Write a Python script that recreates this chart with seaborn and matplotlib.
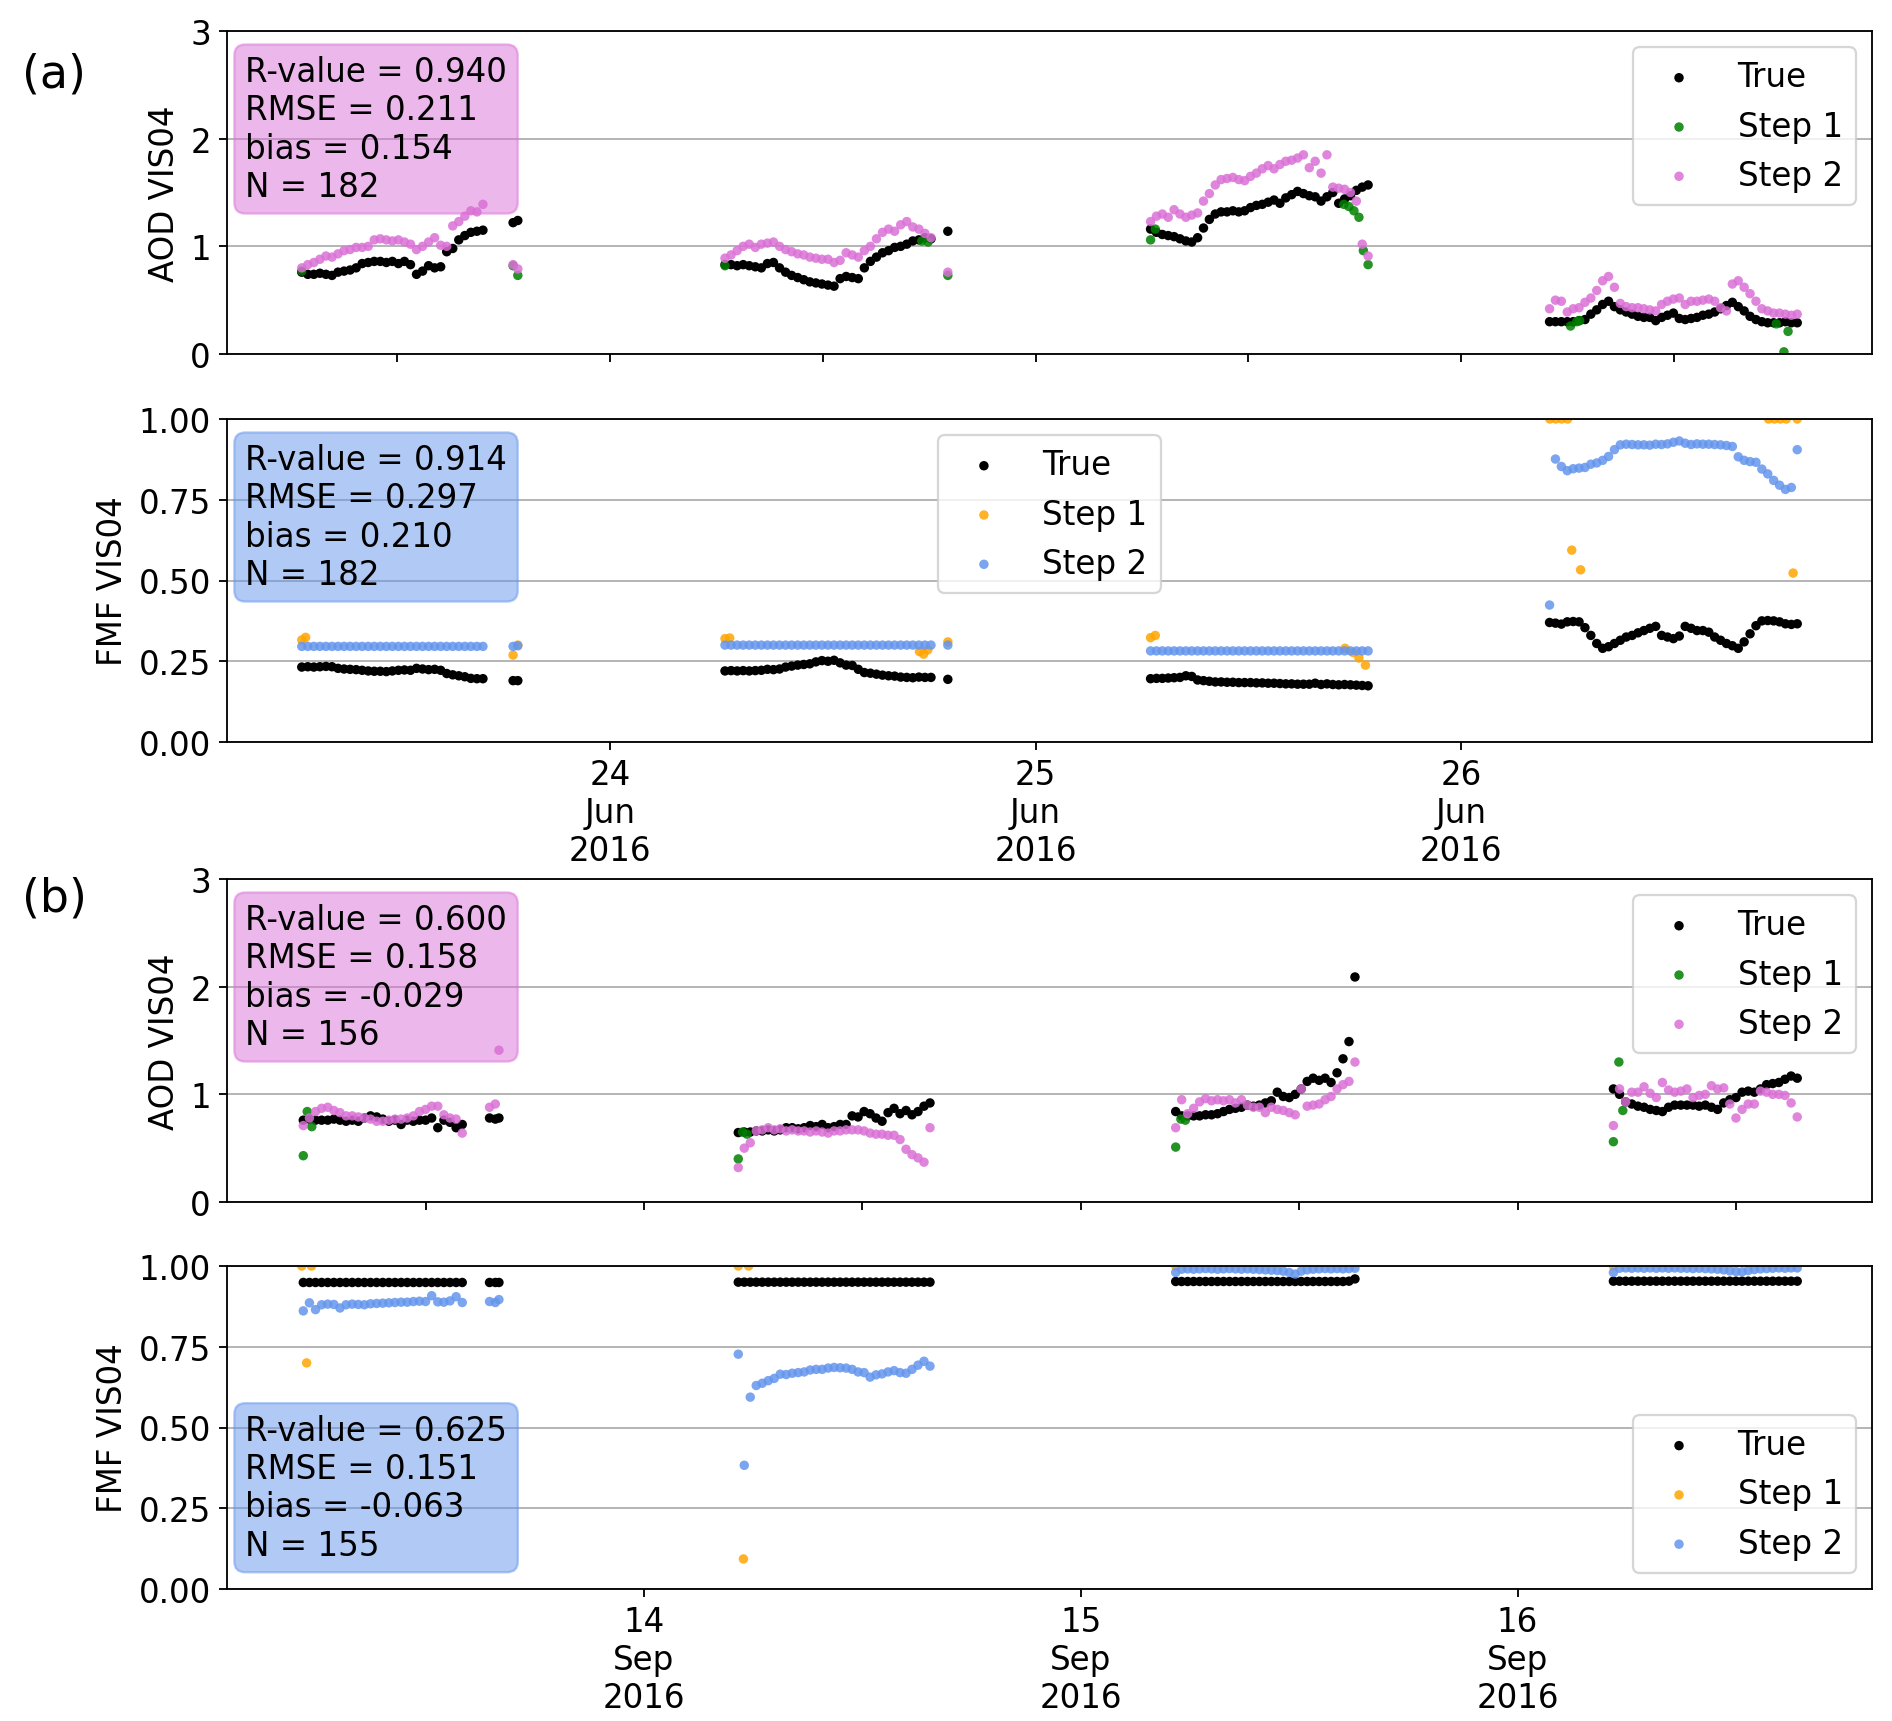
import pandas as pd
import matplotlib
matplotlib.use('Agg')
import matplotlib.pyplot as plt
import matplotlib.dates as mdates
import seaborn as sns

plt.rcParams['font.family'] = ['DejaVu Sans']
plt.rcParams['font.size'] = 14.2

# ==================== (a) June 2016 ====================
jun_spans = [('2016-06-23 06:37', '2016-06-23 16:50'),
             ('2016-06-24 06:29', '2016-06-24 18:06'),
             ('2016-06-25 06:29', '2016-06-25 18:45'),
             ('2016-06-26 04:59', '2016-06-26 18:57')]

jun_aod_true = [
    [0.76, 0.74, 0.74, 0.75, 0.74, 0.73, 0.76, 0.77, 0.78, 0.80, 0.84, 0.85, 0.86, 0.86, 0.85, 0.86,
     0.84, 0.86, 0.83, 0.74, 0.77, 0.82, 0.80, 0.81, 0.95, 0.98, 1.06, 1.10, 1.13, 1.14, 1.15],
    [0.83, 0.83, 0.82, 0.83, 0.82, 0.81, 0.80, 0.84, 0.85, 0.80, 0.76, 0.73, 0.71, 0.69, 0.67, 0.66,
     0.65, 0.64, 0.63, 0.70, 0.72, 0.71, 0.70, 0.80, 0.86, 0.90, 0.94, 0.96, 0.99, 1.00, 1.02, 1.05,
     1.06, 1.08, 1.07],
    [1.16, 1.13, 1.11, 1.10, 1.09, 1.07, 1.05, 1.04, 1.08, 1.17, 1.25, 1.30, 1.32, 1.32, 1.33, 1.32,
     1.33, 1.36, 1.38, 1.39, 1.41, 1.43, 1.40, 1.45, 1.48, 1.51, 1.49, 1.47, 1.46, 1.42, 1.46, 1.50,
     1.40, 1.44, 1.47, 1.52, 1.55, 1.57],
    [0.30, 0.30, 0.30, 0.30, 0.30, 0.31, 0.32, 0.37, 0.41, 0.46, 0.49, 0.44, 0.41, 0.39, 0.37, 0.35,
     0.34, 0.34, 0.31, 0.34, 0.36, 0.38, 0.33, 0.32, 0.33, 0.34, 0.36, 0.37, 0.39, 0.42, 0.45, 0.48,
     0.44, 0.40, 0.35, 0.32, 0.30, 0.29, 0.29, 0.29, 0.30, 0.29, 0.29],
]
jun_aod_step2 = [
    [0.80, 0.83, 0.85, 0.88, 0.91, 0.90, 0.93, 0.96, 0.97, 0.99, 0.99, 1.00, 1.06, 1.07, 1.06, 1.05,
     1.06, 1.04, 1.02, 0.97, 1.00, 1.04, 1.08, 1.01, 1.00, 1.19, 1.23, 1.28, 1.33, 1.32, 1.39],
    [0.89, 0.92, 0.96, 1.00, 1.02, 0.99, 1.02, 1.03, 1.04, 1.00, 0.97, 0.95, 0.93, 0.92, 0.90, 0.89,
     0.88, 0.88, 0.85, 0.87, 0.94, 0.92, 0.90, 0.96, 1.00, 1.07, 1.13, 1.16, 1.14, 1.20, 1.23, 1.18,
     1.16, 1.12, 1.08],
    [1.23, 1.28, 1.30, 1.27, 1.34, 1.30, 1.27, 1.29, 1.31, 1.42, 1.49, 1.57, 1.62, 1.63, 1.64, 1.62,
     1.61, 1.65, 1.68, 1.72, 1.75, 1.72, 1.76, 1.79, 1.80, 1.82, 1.85, 1.73, 1.79, 1.68, 1.85, 1.55,
     1.54, 1.53, 1.50, 1.42, 1.02, 0.91],
    [0.42, 0.50, 0.49, 0.39, 0.42, 0.43, 0.48, 0.52, 0.59, 0.68, 0.72, 0.62, 0.47, 0.44, 0.43, 0.43,
     0.42, 0.41, 0.40, 0.46, 0.49, 0.51, 0.52, 0.46, 0.49, 0.49, 0.50, 0.51, 0.49, 0.43, 0.40, 0.65,
     0.68, 0.62, 0.56, 0.49, 0.42, 0.40, 0.38, 0.38, 0.37, 0.36, 0.37],
]
jun_fmf_true = [
    [0.232, 0.233, 0.232, 0.233, 0.234, 0.233, 0.228, 0.226, 0.225, 0.224, 0.222, 0.220, 0.219, 0.219,
     0.218, 0.220, 0.222, 0.223, 0.222, 0.228, 0.226, 0.224, 0.225, 0.222, 0.212, 0.208, 0.205, 0.202,
     0.197, 0.196, 0.196],
    [0.220, 0.221, 0.220, 0.221, 0.220, 0.221, 0.222, 0.225, 0.224, 0.226, 0.232, 0.235, 0.238, 0.240,
     0.242, 0.248, 0.252, 0.250, 0.253, 0.245, 0.238, 0.237, 0.225, 0.215, 0.213, 0.210, 0.207, 0.205,
     0.204, 0.201, 0.200, 0.199, 0.201, 0.200, 0.200],
    [0.196, 0.197, 0.197, 0.198, 0.199, 0.200, 0.205, 0.203, 0.192, 0.190, 0.188, 0.186, 0.186, 0.185,
     0.185, 0.184, 0.184, 0.184, 0.183, 0.183, 0.182, 0.182, 0.181, 0.180, 0.180, 0.179, 0.179, 0.179,
     0.182, 0.178, 0.180, 0.178, 0.177, 0.178, 0.177, 0.176, 0.175, 0.174],
    [0.370, 0.368, 0.365, 0.372, 0.373, 0.372, 0.354, 0.330, 0.305, 0.290, 0.295, 0.305, 0.315, 0.325,
     0.330, 0.338, 0.345, 0.352, 0.358, 0.330, 0.325, 0.320, 0.328, 0.358, 0.352, 0.345, 0.345, 0.340,
     0.325, 0.315, 0.305, 0.298, 0.290, 0.310, 0.335, 0.360, 0.375, 0.376, 0.375, 0.372, 0.366, 0.364,
     0.366],
]
jun_fmf_step2 = [
    [0.296, 0.296, 0.296, 0.296, 0.296, 0.296, 0.296, 0.296, 0.296, 0.296, 0.296, 0.296, 0.296, 0.296,
     0.296, 0.296, 0.296, 0.296, 0.296, 0.296, 0.296, 0.296, 0.296, 0.296, 0.296, 0.296, 0.296, 0.296,
     0.296, 0.296, 0.296],
    [0.300, 0.300, 0.300, 0.300, 0.300, 0.300, 0.300, 0.300, 0.300, 0.300, 0.300, 0.300, 0.300, 0.300,
     0.300, 0.300, 0.300, 0.300, 0.300, 0.300, 0.300, 0.300, 0.300, 0.300, 0.300, 0.300, 0.300, 0.300,
     0.300, 0.300, 0.300, 0.300, 0.300, 0.300, 0.300],
    [0.282, 0.282, 0.282, 0.282, 0.282, 0.282, 0.282, 0.282, 0.282, 0.282, 0.282, 0.282, 0.282, 0.282,
     0.282, 0.282, 0.282, 0.282, 0.282, 0.282, 0.282, 0.282, 0.282, 0.282, 0.282, 0.282, 0.282, 0.282,
     0.282, 0.282, 0.282, 0.282, 0.282, 0.282, 0.282, 0.282, 0.282, 0.282],
    [0.424, 0.876, 0.853, 0.840, 0.846, 0.848, 0.850, 0.860, 0.864, 0.872, 0.884, 0.905, 0.920, 0.922,
     0.921, 0.920, 0.920, 0.919, 0.922, 0.921, 0.923, 0.928, 0.932, 0.925, 0.921, 0.923, 0.922, 0.922,
     0.921, 0.920, 0.918, 0.915, 0.883, 0.872, 0.868, 0.866, 0.845, 0.830, 0.810, 0.795, 0.782, 0.788,
     0.905],
]
# isolated late measurements after the evening gap
jun_late_times = ['2016-06-23 18:32', '2016-06-23 18:48', '2016-06-24 19:03']
jun_late_aod_true = [1.22, 1.24, 1.14]
jun_late_aod_step2 = [0.83, 0.79, 0.76]
jun_late_fmf_true = [0.190, 0.190, 0.194]
jun_late_fmf_step2 = [0.296, 0.298, 0.300]

# Step 1 only where it is not hidden under Step 2
jun_aod_step1_times = ['2016-06-23 06:37', '2016-06-23 18:32', '2016-06-23 18:48',
                       '2016-06-24 06:29', '2016-06-24 17:35', '2016-06-24 17:56', '2016-06-24 19:03',
                       '2016-06-25 06:29', '2016-06-25 06:45', '2016-06-25 17:23', '2016-06-25 17:40',
                       '2016-06-25 17:57', '2016-06-25 18:14', '2016-06-25 18:29', '2016-06-25 18:45',
                       '2016-06-26 06:10', '2016-06-26 06:31', '2016-06-26 06:41', '2016-06-26 17:46',
                       '2016-06-26 18:12', '2016-06-26 18:26']
jun_aod_step1 = [0.77, 0.82, 0.73,
                 0.82, 1.05, 1.04, 0.73,
                 1.06, 1.16, 1.39, 1.37, 1.33, 1.27, 0.96, 0.83,
                 0.26, 0.30, 0.31, 0.28, 0.02, 0.21]
jun_fmf_step1_times = ['2016-06-23 06:37', '2016-06-23 06:50', '2016-06-23 18:32', '2016-06-23 18:48',
                       '2016-06-24 06:29', '2016-06-24 06:45', '2016-06-24 17:27', '2016-06-24 17:41',
                       '2016-06-24 17:55', '2016-06-24 19:03',
                       '2016-06-25 06:29', '2016-06-25 06:45', '2016-06-25 17:27', '2016-06-25 17:55',
                       '2016-06-25 18:14', '2016-06-25 18:36',
                       '2016-06-26 05:00', '2016-06-26 05:20', '2016-06-26 05:40', '2016-06-26 06:00',
                       '2016-06-26 06:14', '2016-06-26 06:44', '2016-06-26 17:20', '2016-06-26 17:40',
                       '2016-06-26 18:00', '2016-06-26 18:20', '2016-06-26 18:43', '2016-06-26 18:57']
jun_fmf_step1 = [0.316, 0.324, 0.269, 0.300,
                 0.320, 0.322, 0.280, 0.272, 0.285, 0.310,
                 0.323, 0.330, 0.290, 0.277, 0.260, 0.238,
                 1.0, 1.0, 1.0, 1.0, 0.594, 0.533, 1.0, 1.0, 1.0, 1.0, 0.523, 1.0]

# ==================== (b) September 2016 ====================
sep_spans = [('2016-09-13 05:17', '2016-09-13 14:01'),
             ('2016-09-14 05:11', '2016-09-14 15:43'),
             ('2016-09-15 05:13', '2016-09-15 15:04'),
             ('2016-09-16 05:16', '2016-09-16 15:22')]

sep_aod_true = [
    [0.76, 0.77, 0.76, 0.76, 0.76, 0.77, 0.76, 0.75, 0.76, 0.75, 0.78, 0.80, 0.79, 0.77, 0.75, 0.76,
     0.72, 0.76, 0.75, 0.76, 0.76, 0.78, 0.69, 0.76, 0.74, 0.69, 0.72],
    [0.645, 0.65, 0.65, 0.66, 0.66, 0.67, 0.66, 0.67, 0.69, 0.69, 0.68, 0.69, 0.71, 0.70, 0.72, 0.69,
     0.70, 0.72, 0.72, 0.80, 0.79, 0.84, 0.82, 0.78, 0.75, 0.83, 0.87, 0.82, 0.85, 0.81, 0.84, 0.89,
     0.92],
    [0.84, 0.80, 0.80, 0.80, 0.80, 0.81, 0.81, 0.82, 0.84, 0.86, 0.87, 0.88, 0.90, 0.89, 0.90, 0.92,
     0.94, 1.02, 0.98, 0.97, 1.00, 1.05, 1.12, 1.15, 1.13, 1.15, 1.11, 1.20, 1.33, 1.49, 2.09],
    [1.05, 1.00, 0.93, 0.91, 0.89, 0.88, 0.86, 0.85, 0.84, 0.88, 0.90, 0.90, 0.90, 0.90, 0.89, 0.90,
     0.88, 0.86, 0.92, 0.95, 0.97, 1.02, 1.03, 1.02, 1.05, 1.09, 1.10, 1.11, 1.14, 1.17, 1.15],
]
sep_aod_step2 = [
    [0.71, 0.78, 0.84, 0.87, 0.88, 0.85, 0.83, 0.80, 0.80, 0.79, 0.78, 0.77, 0.75, 0.75, 0.76, 0.77,
     0.77, 0.78, 0.80, 0.84, 0.86, 0.89, 0.89, 0.81, 0.78, 0.77, 0.64],
    [0.32, 0.50, 0.55, 0.66, 0.67, 0.69, 0.67, 0.68, 0.66, 0.67, 0.66, 0.66, 0.65, 0.66, 0.65, 0.64,
     0.66, 0.66, 0.67, 0.67, 0.67, 0.66, 0.64, 0.63, 0.63, 0.62, 0.62, 0.58, 0.49, 0.44, 0.41, 0.37,
     0.69],
    [0.69, 0.95, 0.82, 0.87, 0.93, 0.96, 0.94, 0.95, 0.94, 0.95, 0.92, 0.95, 0.90, 0.88, 0.88, 0.83,
     0.88, 0.86, 0.85, 0.83, 0.81, 1.05, 0.89, 0.90, 0.91, 0.95, 0.98, 1.05, 1.09, 1.12, 1.30],
    [0.71, 1.05, 0.93, 1.02, 1.02, 1.07, 1.01, 0.97, 1.11, 1.04, 1.02, 1.03, 1.05, 0.97, 0.99, 1.00,
     1.08, 1.05, 1.06, 0.91, 0.78, 0.86, 0.91, 0.91, 1.03, 1.02, 1.00, 1.00, 0.99, 0.92, 0.79],
]
sep_fmf_true = [
    [0.949, 0.949, 0.949, 0.949, 0.949, 0.949, 0.949, 0.949, 0.949, 0.949, 0.949, 0.949, 0.949, 0.949,
     0.949, 0.949, 0.949, 0.949, 0.949, 0.949, 0.949, 0.949, 0.949, 0.949, 0.949, 0.949, 0.949],
    [0.950, 0.950, 0.950, 0.950, 0.950, 0.950, 0.950, 0.950, 0.950, 0.950, 0.950, 0.950, 0.950, 0.950,
     0.950, 0.950, 0.950, 0.950, 0.950, 0.950, 0.950, 0.950, 0.950, 0.950, 0.950, 0.950, 0.950, 0.950,
     0.950, 0.950, 0.950, 0.950, 0.950],
    [0.952, 0.952, 0.952, 0.952, 0.952, 0.952, 0.952, 0.952, 0.952, 0.952, 0.952, 0.952, 0.952, 0.952,
     0.952, 0.952, 0.952, 0.952, 0.952, 0.952, 0.952, 0.952, 0.952, 0.952, 0.952, 0.952, 0.952, 0.952,
     0.952, 0.953, 0.960],
    [0.953, 0.953, 0.953, 0.953, 0.953, 0.953, 0.953, 0.953, 0.953, 0.953, 0.953, 0.953, 0.953, 0.953,
     0.953, 0.953, 0.953, 0.953, 0.953, 0.953, 0.953, 0.953, 0.953, 0.953, 0.953, 0.953, 0.953, 0.953,
     0.953, 0.953, 0.953],
]
sep_fmf_step2 = [
    [0.861, 0.886, 0.865, 0.880, 0.882, 0.881, 0.870, 0.880, 0.882, 0.881, 0.880, 0.883, 0.884, 0.885,
     0.886, 0.887, 0.888, 0.888, 0.890, 0.891, 0.890, 0.908, 0.889, 0.888, 0.892, 0.905, 0.887],
    [0.727, 0.383, 0.594, 0.630, 0.637, 0.645, 0.652, 0.665, 0.664, 0.668, 0.670, 0.672, 0.678, 0.680,
     0.680, 0.684, 0.686, 0.685, 0.684, 0.680, 0.672, 0.670, 0.656, 0.663, 0.666, 0.672, 0.676, 0.670,
     0.668, 0.680, 0.693, 0.705, 0.690],
    [0.980, 0.990, 0.991, 0.990, 0.991, 0.992, 0.991, 0.990, 0.991, 0.992, 0.991, 0.990, 0.991, 0.990,
     0.989, 0.988, 0.987, 0.986, 0.984, 0.980, 0.975, 0.984, 0.988, 0.990, 0.991, 0.992, 0.991, 0.992,
     0.991, 0.992, 0.993],
    [0.980, 0.993, 0.994, 0.993, 0.994, 0.993, 0.994, 0.993, 0.994, 0.993, 0.994, 0.993, 0.993, 0.992,
     0.993, 0.992, 0.991, 0.990, 0.988, 0.985, 0.983, 0.982, 0.986, 0.989, 0.991, 0.992, 0.993, 0.994,
     0.993, 0.994, 0.994],
]
sep_late_times = ['2016-09-13 15:31', '2016-09-13 15:50', '2016-09-13 16:02']
sep_late_aod_true = [0.78, 0.77, 0.78]
sep_late_aod_step2 = [0.88, 0.91, 1.41]
sep_late_fmf_true = [0.949, 0.949, 0.949]
sep_late_fmf_step2 = [0.890, 0.887, 0.896]

sep_aod_step1_times = ['2016-09-13 05:17', '2016-09-13 05:30', '2016-09-13 05:45',
                       '2016-09-14 05:11', '2016-09-14 05:25', '2016-09-14 05:40',
                       '2016-09-15 05:13', '2016-09-15 05:30', '2016-09-15 05:45',
                       '2016-09-16 05:16', '2016-09-16 05:34', '2016-09-16 05:47']
sep_aod_step1 = [0.43, 0.84, 0.70, 0.40, 0.65, 0.63, 0.51, 0.77, 0.76, 0.56, 1.30, 0.85]
sep_fmf_step1_times = ['2016-09-13 05:12', '2016-09-13 05:28', '2016-09-13 05:44',
                       '2016-09-14 05:11', '2016-09-14 05:28', '2016-09-14 05:45',
                       '2016-09-15 05:13', '2016-09-16 05:16']
sep_fmf_step1 = [1.0, 0.70, 1.0, 1.0, 0.093, 1.0, 1.0, 1.0]

stats_text = {
    'a_aod': 'R-value = 0.940\nRMSE = 0.211\nbias = 0.154\nN = 182',
    'a_fmf': 'R-value = 0.914\nRMSE = 0.297\nbias = 0.210\nN = 182',
    'b_aod': 'R-value = 0.600\nRMSE = 0.158\nbias = -0.029\nN = 156',
    'b_fmf': 'R-value = 0.625\nRMSE = 0.151\nbias = -0.063\nN = 155',
}


def day_series(spans, day_lists, late_times, late_vals):
    frames = []
    for (t0, t1), vals in zip(spans, day_lists):
        frames.append(pd.DataFrame({'time': pd.date_range(t0, t1, periods=len(vals)), 'value': vals}))
    frames.append(pd.DataFrame({'time': pd.to_datetime(late_times), 'value': late_vals}))
    return pd.concat(frames, ignore_index=True)


def point_series(times, vals):
    return pd.DataFrame({'time': pd.to_datetime(times), 'value': vals})


def draw(ax, true_df, step1_df, step2_df, c1, c2, text, box_color, box_top, leg_loc):
    for df, c, lab, a in [(true_df, 'black', 'True', 1.0),
                          (step1_df, c1, 'Step 1', 0.85),
                          (step2_df, c2, 'Step 2', 0.85)]:
        sns.scatterplot(data=df, x='time', y='value', color=c, label=lab, s=17,
                        alpha=a, edgecolor='none', linewidth=0, ax=ax)
    ax.grid(axis='y')
    ax.set_axisbelow(True)
    ax.set_xlabel('')
    ax.legend(loc=leg_loc)
    box = dict(boxstyle='round,pad=0.33', color=box_color, alpha=0.5)
    if box_top:
        ax.text(0.011, 0.925, text, transform=ax.transAxes, ha='left', va='top', bbox=box)
    else:
        ax.text(0.011, 0.085, text, transform=ax.transAxes, ha='left', va='bottom', bbox=box)


W, H = 1892, 1722
fig = plt.figure(figsize=(W / 165, H / 165))
left, width, height = 227 / W, 1645 / W, 323 / H
ax1 = fig.add_axes([left, 1 - 355 / H, width, height])
ax2 = fig.add_axes([left, 1 - 743 / H, width, height])
ax3 = fig.add_axes([left, 1 - 1203 / H, width, height])
ax4 = fig.add_axes([left, 1 - 1590 / H, width, height])

draw(ax1, day_series(jun_spans, jun_aod_true, jun_late_times, jun_late_aod_true),
     point_series(jun_aod_step1_times, jun_aod_step1),
     day_series(jun_spans, jun_aod_step2, jun_late_times, jun_late_aod_step2),
     'green', 'orchid', stats_text['a_aod'], 'orchid', True, 'upper right')
draw(ax2, day_series(jun_spans, jun_fmf_true, jun_late_times, jun_late_fmf_true),
     point_series(jun_fmf_step1_times, jun_fmf_step1),
     day_series(jun_spans, jun_fmf_step2, jun_late_times, jun_late_fmf_step2),
     'orange', 'cornflowerblue', stats_text['a_fmf'], 'cornflowerblue', True, 'upper center')
draw(ax3, day_series(sep_spans, sep_aod_true, sep_late_times, sep_late_aod_true),
     point_series(sep_aod_step1_times, sep_aod_step1),
     day_series(sep_spans, sep_aod_step2, sep_late_times, sep_late_aod_step2),
     'green', 'orchid', stats_text['b_aod'], 'orchid', True, 'upper right')
draw(ax4, day_series(sep_spans, sep_fmf_true, sep_late_times, sep_late_fmf_true),
     point_series(sep_fmf_step1_times, sep_fmf_step1),
     day_series(sep_spans, sep_fmf_step2, sep_late_times, sep_late_fmf_step2),
     'orange', 'cornflowerblue', stats_text['b_fmf'], 'cornflowerblue', False, 'lower right')

for ax in (ax1, ax3):
    ax.set_ylim(0, 3)
    ax.set_yticks([0, 1, 2, 3])
    ax.set_ylabel('AOD VIS04')
    ax.xaxis.set_major_locator(mdates.HourLocator(byhour=[0, 12]))
    ax.xaxis.set_major_formatter(plt.NullFormatter())
for ax in (ax2, ax4):
    ax.set_ylim(0, 1)
    ax.set_yticks([0, 0.25, 0.5, 0.75, 1.0])
    ax.set_ylabel('FMF VIS04')
    ax.xaxis.set_major_locator(mdates.DayLocator())
    ax.xaxis.set_major_formatter(mdates.DateFormatter('%d\n%b\n%Y'))

ax1.set_xlim(ax2.get_xlim())
ax3.set_xlim(ax4.get_xlim())

fig.text(54 / W, 1 - 75 / H, '(a)', fontsize=20, ha='center', va='center')
fig.text(54 / W, 1 - 899 / H, '(b)', fontsize=20, ha='center', va='center')

fig.savefig('out.png', dpi=165)
plt.close()
